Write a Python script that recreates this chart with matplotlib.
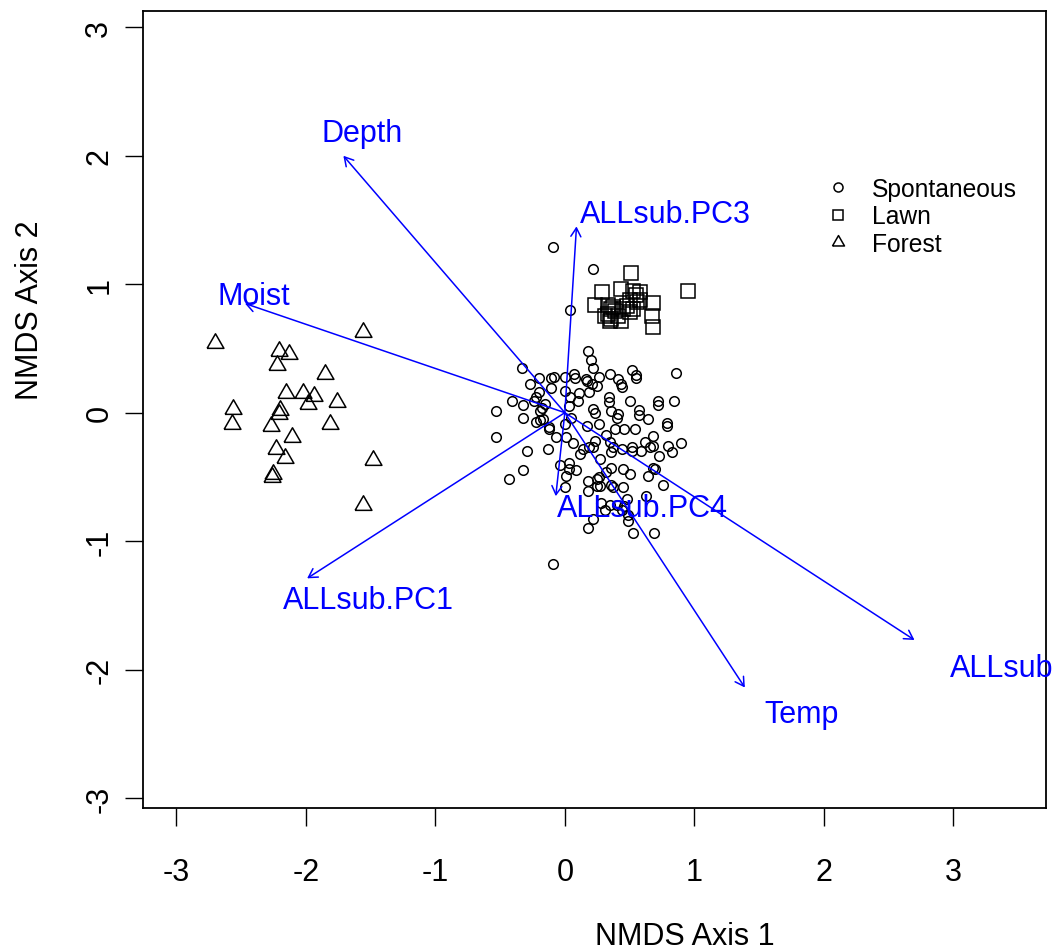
import matplotlib
matplotlib.use("Agg")
import matplotlib.pyplot as plt
from matplotlib.lines import Line2D

plt.rcParams['font.family'] = ['Liberation Sans', 'DejaVu Sans']
plt.rcParams['axes.unicode_minus'] = False

# ---- data ----
spont_x = [-0.09, 0.22, 0.04, 0.18, 0.20, 0.22, -0.33, 0.52, 0.55, 0.55, 0.86, 0.35, 0.41, 0.43, 0.44,
           0.26, 0.21, 0.25, -0.20, -0.11, -0.08, 0.00, 0.07, 0.08, 0.16, 0.17, -0.27, -0.11, 0.00, 0.19,
           -0.20, -0.22, -0.24, 0.11, 0.10, 0.04, 0.34, 0.34, 0.50, 0.72, 0.72, 0.84, -0.41, -0.32, -0.15,
           -0.18, 0.03, -0.53, -0.32, -0.19, 0.22, 0.23, 0.36, 0.41, 0.40, 0.57, 0.57, 0.64, 0.79, 0.79,
           -0.22, -0.19, -0.17, 0.05, 0.17, -0.12, 0.00, -0.53, -0.29, -0.32, -0.43, -0.12, -0.07, 0.01,
           0.06, -0.13, -0.04, 0.03, 0.03, 0.09, 0.01, 0.00, 0.26, 0.32, 0.39, 0.46, 0.54, 0.23, 0.19,
           0.22, 0.14, 0.12, 0.35, 0.37, 0.36, 0.27, 0.44, 0.52, 0.52, 0.59, 0.62, 0.68, 0.68, 0.66,
           0.80, 0.90, 0.83, 0.73, 0.36, 0.45, 0.50, 0.32, 0.26, 0.18, 0.25, 0.18, 0.37, 0.45, 0.64,
           0.68, 0.70, 0.76, 0.63, 0.48, 0.40, 0.46, 0.44, 0.49, 0.49, 0.35, 0.28, 0.31, 0.22, 0.18,
           0.53, 0.69, -0.09, 0.36, 0.27, 0.25]
spont_y = [1.29, 1.12, 0.80, 0.48, 0.41, 0.35, 0.35, 0.33, 0.29, 0.27, 0.31, 0.30, 0.26, 0.22, 0.20,
           0.28, 0.22, 0.21, 0.27, 0.27, 0.28, 0.28, 0.30, 0.27, 0.26, 0.25, 0.22, 0.19, 0.17, 0.16,
           0.16, 0.12, 0.09, 0.15, 0.09, 0.12, 0.12, 0.08, 0.09, 0.09, 0.06, 0.09, 0.09, 0.06, 0.07,
           0.04, 0.05, 0.01, -0.04, 0.01, 0.03, 0.00, 0.01, -0.01, -0.04, 0.02, -0.02, -0.05, -0.08, -0.10,
           -0.07, -0.06, -0.05, -0.04, -0.10, -0.11, -0.09, -0.19, -0.30, -0.45, -0.52, -0.13, -0.19, -0.19,
           -0.24, -0.28, -0.41, -0.39, -0.44, -0.45, -0.49, -0.58, -0.09, -0.17, -0.13, -0.13, -0.13, -0.22, -0.27,
           -0.27, -0.28, -0.32, -0.23, -0.27, -0.31, -0.36, -0.28, -0.27, -0.30, -0.30, -0.23, -0.18, -0.26, -0.27,
           -0.26, -0.24, -0.31, -0.34, -0.43, -0.44, -0.48, -0.46, -0.50, -0.53, -0.57, -0.61, -0.58, -0.58, -0.49,
           -0.43, -0.44, -0.56, -0.65, -0.67, -0.72, -0.73, -0.76, -0.80, -0.84, -0.72, -0.70, -0.76, -0.83, -0.90,
           -0.94, -0.94, -1.18, -0.56, -0.57, -0.52]

lawn_x = [0.51, 0.95, 0.29, 0.43, 0.53, 0.55, 0.23, 0.33, 0.36, 0.37, 0.33, 0.36, 0.41, 0.43, 0.48,
          0.50, 0.50, 0.56, 0.58, 0.68, 0.67, 0.68, 0.31, 0.58, 0.35, 0.39, 0.45, 0.53]
lawn_y = [1.09, 0.95, 0.94, 0.96, 0.95, 0.92, 0.84, 0.84, 0.81, 0.82, 0.77, 0.73, 0.75, 0.71, 0.83,
          0.78, 0.88, 0.86, 0.88, 0.85, 0.75, 0.67, 0.75, 0.94, 0.71, 0.79, 0.81, 0.81]

forest_x = [-2.70, -1.56, -2.21, -2.13, -2.22, -1.85, -2.15, -2.02, -1.94, -1.98, -1.76, -2.56,
            -2.20, -2.21, -2.57, -2.27, -1.81, -2.11, -2.23, -2.16, -2.25, -2.26, -1.48, -1.56]
forest_y = [0.54, 0.63, 0.48, 0.46, 0.37, 0.30, 0.15, 0.15, 0.13, 0.07, 0.08, 0.03,
            0.02, -0.01, -0.09, -0.10, -0.09, -0.19, -0.28, -0.35, -0.48, -0.50, -0.37, -0.72]

vec_names = ["Depth", "Moist", "ALLsub.PC3", "ALLsub.PC1", "ALLsub.PC4", "Temp", "ALLsub.PC2"]
vec_x = [-1.71, -2.47, 0.09, -1.99, -0.07, 1.39, 2.70]
vec_y = [2.00, 0.85, 1.45, -1.29, -0.65, -2.14, -1.77]
lab_x = [-1.88, -2.68, 0.12, -2.18, -0.06, 1.54, 2.97]
lab_y = [2.18, 0.91, 1.55, -1.46, -0.74, -2.35, -1.99]

group_names = ["Spontaneous", "Lawn", "Forest"]
x_ticks = [-3, -2, -1, 0, 1, 2, 3]
y_ticks = [-3, -2, -1, 0, 1, 2, 3]

# ---- figure ----
fig = plt.figure(figsize=(10.53, 9.53), dpi=100)
ax = fig.add_axes([0.1356, 0.1511, 0.8577, 0.836])

tri = [(-1.0, -0.577), (1.0, -0.577), (0.0, 1.155), (-1.0, -0.577)]
mk_kw = dict(ls='none', mfc='none', mec='black', mew=1.1)
ax.plot(spont_x, spont_y, marker='o', ms=6.9, **mk_kw)
ax.plot(lawn_x, lawn_y, marker='s', ms=9.6, **mk_kw)
ax.plot(forest_x, forest_y, marker=tri, ms=14.0, **mk_kw)

for name, vx, vy, lx, ly in zip(vec_names, vec_x, vec_y, lab_x, lab_y):
    ax.annotate('', xy=(vx, vy), xytext=(0, 0),
                arrowprops=dict(arrowstyle='->,head_length=0.62,head_width=0.36',
                                color='blue', lw=1.1, shrinkA=0, shrinkB=0,
                                mutation_scale=10))
    ax.text(lx, ly, name, color='blue', fontsize=22, ha='left', va='center',
            clip_on=False)

ax.set_xlim(-3.259, 3.715)
ax.set_ylim(-3.078, 3.125)
ax.set_xticks(x_ticks)
ax.set_xticklabels([str(v) for v in x_ticks])
ax.set_yticks(y_ticks)
ax.set_yticklabels([str(v) for v in y_ticks], rotation=90, va='center')
ax.tick_params(direction='out', length=13, width=1.0, labelsize=22, color='black')
ax.tick_params(axis='x', pad=22)
ax.tick_params(axis='y', pad=7.5)
for sp in ax.spines.values():
    sp.set_linewidth(1.3)

ax.set_xlabel("NMDS Axis 1", fontsize=22)
ax.xaxis.label.set_va('center')
ax.xaxis.set_label_coords(0.600, -0.161)
ax.set_ylabel("NMDS Axis 2", fontsize=22)
ax.yaxis.label.set_va('center')
ax.yaxis.set_label_coords(-0.1249, 0.626)

handles = [
    Line2D([], [], marker='o', ms=6.5, **mk_kw),
    Line2D([], [], marker='s', ms=6.5, **mk_kw),
    Line2D([], [], marker=tri, ms=10.0, **mk_kw),
]
ax.legend(handles, group_names, loc='upper left', bbox_to_anchor=(0.756, 0.792),
          frameon=False, fontsize=17.7, handlelength=1.0, handletextpad=0.88,
          labelspacing=0.14, borderpad=0, borderaxespad=0)

fig.savefig("out.png", dpi=100)
